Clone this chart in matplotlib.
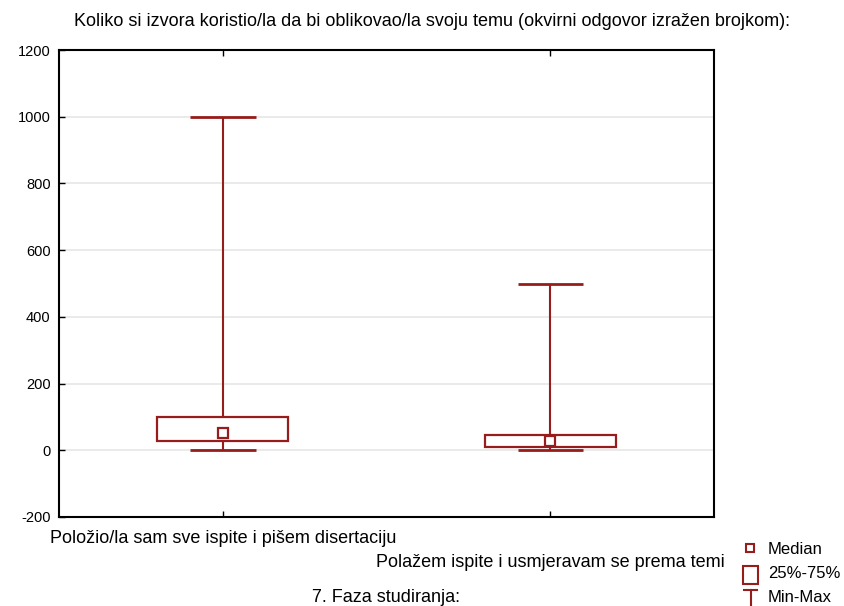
import matplotlib
matplotlib.use("Agg")
import matplotlib.pyplot as plt
from matplotlib.patches import Rectangle
from matplotlib.lines import Line2D

plt.rcParams['font.family'] = ['Liberation Sans', 'DejaVu Sans']
plt.rcParams['axes.unicode_minus'] = False

# data
categories = ["Položio/la sam sve ispite i pišem disertaciju",
              "Polažem ispite i usmjeravam se prema temi"]
medians = [51, 27]
q1 = [27, 9]
q3 = [99, 45]
mins = [0, 0]
maxs = [1000, 500]
yticks = [-200, 0, 200, 400, 600, 800, 1000, 1200]

col = "#971c1c"

fig = plt.figure(figsize=(8.44, 6.06), dpi=100)
ax = fig.add_axes([59/844, 1-517/606, 655/844, 467/606])

box_w = 0.4
cap_w = 0.2
for i in range(len(categories)):
    ax.vlines(i, q3[i], maxs[i], color=col, lw=1.5, zorder=3)
    ax.vlines(i, mins[i], q1[i], color=col, lw=1.5, zorder=3)
    ax.hlines([maxs[i], mins[i]], i - cap_w/2, i + cap_w/2, color=col, lw=2, zorder=3)
    ax.add_patch(Rectangle((i - box_w/2, q1[i]), box_w, q3[i] - q1[i],
                           facecolor="white", edgecolor=col, lw=1.6, zorder=4))
    ax.plot(i, medians[i], marker="s", ms=7, mfc="white", mec=col, mew=1.6, zorder=5)

ax.set_xlim(-0.5, 1.5)
ax.set_ylim(-200, 1200)
ax.set_yticks(yticks)
ax.set_xticks([0, 1])
ax.set_xticklabels([])
ax.grid(axis="y", color="#e6e6e6", lw=1.2, zorder=0)
ax.tick_params(axis="both", direction="in", length=4, width=1, labelsize=10.5,
               top=True, bottom=True, right=False)
ax.tick_params(axis="y", pad=6)
for s in ax.spines.values():
    s.set_linewidth(1.5)

# staggered category labels
ax.text(0, -0.045, categories[0], transform=ax.get_xaxis_transform(),
        ha="center", va="center", fontsize=13)
ax.text(1, -0.098, categories[1], transform=ax.get_xaxis_transform(),
        ha="center", va="center", fontsize=13)
fig.text(386/844, 1-598/606, "7. Faza studiranja:", ha="center", va="center", fontsize=13)

fig.text(432/844, 1-22/606,
         "Koliko si izvora koristio/la da bi oblikovao/la svoju temu (okvirni odgovor izražen brojkom):",
         ha="center", va="center", fontsize=13)

# legend drawn by hand
fig.add_artist(Line2D([750/844], [1-548/606], marker="s", ms=6, mfc="white",
                      mec=col, mew=1.5, transform=fig.transFigure))
fig.text(768/844, 1-549/606, "Median", ha="left", va="center", fontsize=12)
fig.add_artist(Rectangle((743/844, 1-584/606), 15/844, 18/606, transform=fig.transFigure,
                         facecolor="white", edgecolor=col, lw=1.5))
fig.text(768/844, 1-574/606, "25%-75%", ha="left", va="center", fontsize=12)
fig.add_artist(Line2D([744/844, 757/844], [1-590/606, 1-590/606], color=col, lw=1.5,
                      transform=fig.transFigure))
fig.add_artist(Line2D([750.5/844, 750.5/844], [1-590/606, 1-605/606], color=col, lw=1.5,
                      transform=fig.transFigure))
fig.text(768/844, 1-597/606, "Min-Max", ha="left", va="center", fontsize=12)

fig.savefig("out.png", dpi=100, facecolor="white")
